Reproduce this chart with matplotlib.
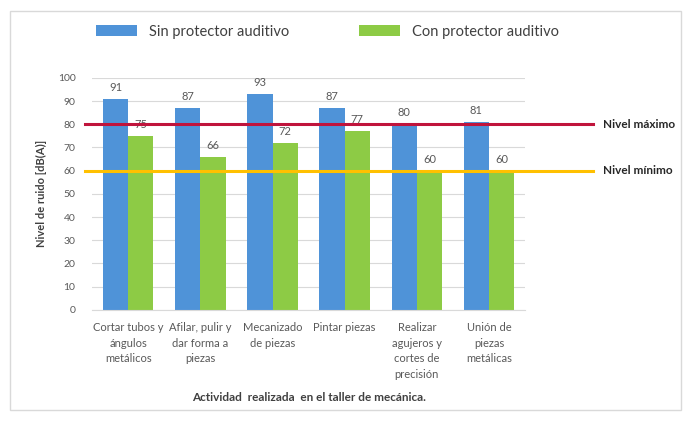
import matplotlib.pyplot as plt
from matplotlib.patches import Rectangle
import numpy as np

plt.rcParams['font.family'] = ['Lato', 'DejaVu Sans']

# Datos del gráfico
actividades = ["Cortar tubos y\nángulos\nmetálicos", "Afilar, pulir y\ndar forma a\npiezas",
               "Mecanizado\nde piezas", "Pintar piezas", "Realizar\nagujeros y\ncortes de\nprecisión",
               "Unión de\npiezas\nmetálicas"]
sin_protector = [91, 87, 93, 87, 80, 81]
con_protector = [75, 66, 72, 77, 60, 60]
nivel_maximo = 80
nivel_minimo = 60

azul = "#4F93D8"
verde = "#8DCB45"
gris = "#595959"

fig = plt.figure(figsize=(6.88, 4.21), dpi=100)
fig.patches.append(Rectangle((0.015, 0.025), 0.975, 0.948, transform=fig.transFigure,
                             fill=False, edgecolor="#D9D9D9", linewidth=1))
ax = fig.add_axes([0.134, 0.264, 0.629, 0.551])

x = np.arange(len(actividades))
w = 0.35
b1 = ax.bar(x - w / 2, sin_protector, w, color=azul, label="Sin protector auditivo", zorder=2)
b2 = ax.bar(x + w / 2, con_protector, w, color=verde, label="Con protector auditivo", zorder=2)

for rect, v in zip(b1, sin_protector):
    ax.text(rect.get_x() + rect.get_width() / 2, v + 2.5, str(v), ha="center", va="bottom",
            fontsize=8, color=gris)
for rect, v in zip(b2, con_protector):
    ax.text(rect.get_x() + rect.get_width() / 2, v + 2.5, str(v), ha="center", va="bottom",
            fontsize=8, color=gris)

# Líneas de nivel (se extienden fuera del área del gráfico)
xr = [-0.6, 6.45]
ax.plot(xr, [nivel_maximo] * 2, color="#C0143C", linewidth=2.2, clip_on=False, zorder=3)
ax.plot(xr, [nivel_minimo] * 2, color="#FFC000", linewidth=2.2, clip_on=False, zorder=3)
ax.text(6.58, nivel_maximo, "Nivel máximo", fontsize=8.5, fontweight="bold", va="center", color="#262626")
ax.text(6.58, nivel_minimo, "Nivel mínimo", fontsize=8.5, fontweight="bold", va="center", color="#262626")

ax.set_xlim(-0.5, 5.5)
ax.set_ylim(0, 100)
ax.set_yticks(range(0, 101, 10))
ax.set_xticks(x)
ax.set_xticklabels(actividades, fontsize=8, color=gris, linespacing=1.5)
ax.tick_params(axis="y", labelsize=7.5, colors=gris, length=0, pad=12)
ax.tick_params(axis="x", length=0, pad=9)
ax.grid(axis="y", color="#D9D9D9", linewidth=0.8, zorder=0)
for s in ["top", "right", "left"]:
    ax.spines[s].set_visible(False)
ax.spines["bottom"].set_color("#D9D9D9")

ax.set_ylabel("Nivel de ruido [dB(A)]", fontsize=8, fontweight="bold", color="#404040", labelpad=8)
ax.set_xlabel("Actividad  realizada  en el taller de mecánica.", fontsize=8.5,
              fontweight="bold", color="#404040", labelpad=9)

fig.legend(handles=[b1, b2], loc="center", bbox_to_anchor=(0.476, 0.925), ncol=2, frameon=False,
           fontsize=10.5, handlelength=2.8, handleheight=0.8, columnspacing=4.8, labelcolor="#404040")

fig.savefig("out.png", dpi=100)
